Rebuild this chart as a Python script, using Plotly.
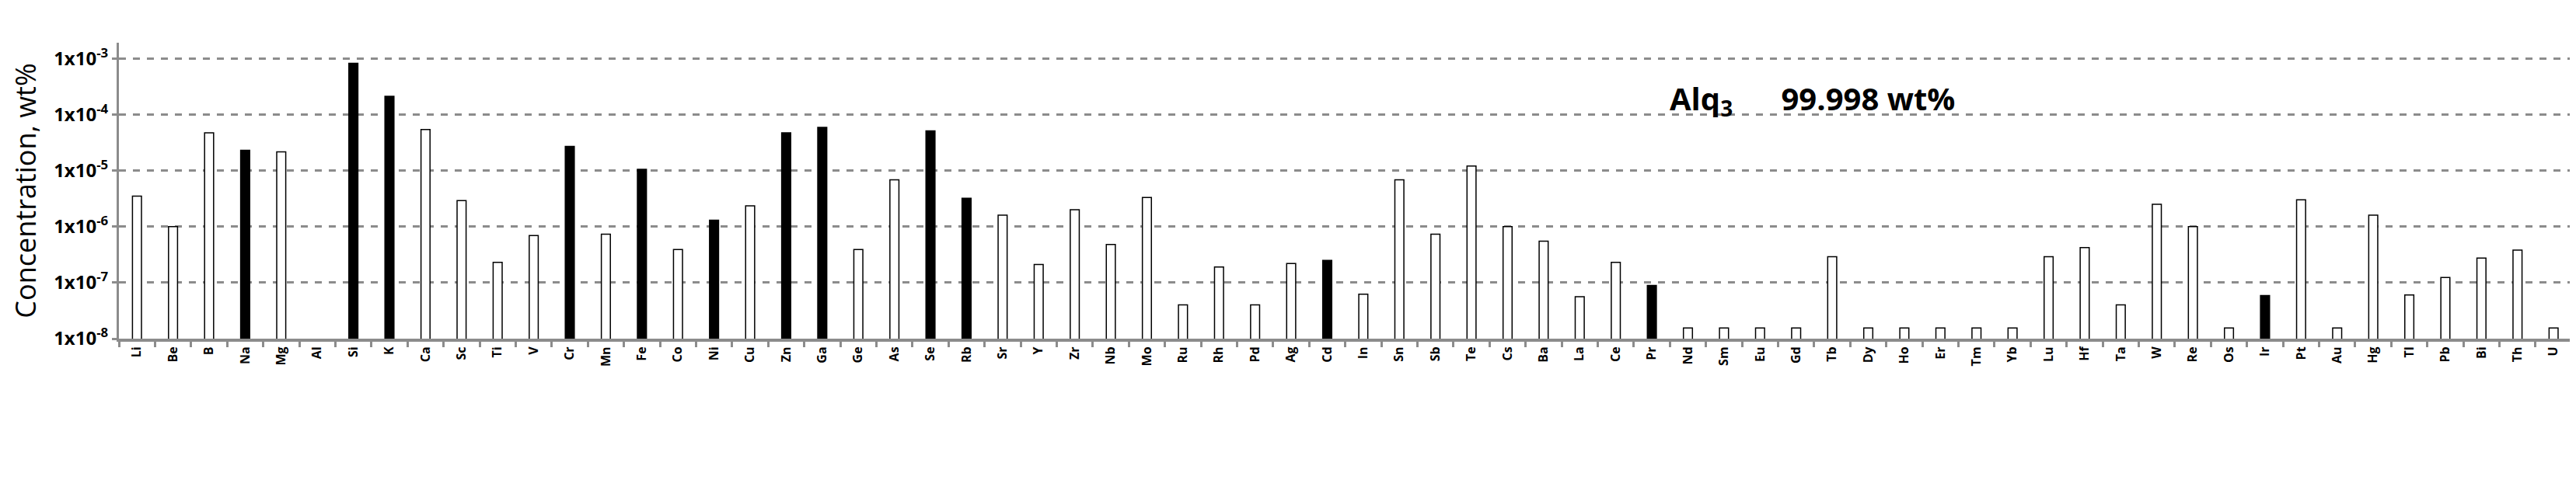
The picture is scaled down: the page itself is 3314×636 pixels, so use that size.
import plotly.graph_objects as go

elements = ["Li", "Be", "B", "Na", "Mg", "Al", "Si", "K", "Ca", "Sc", "Ti", "V", "Cr", "Mn", "Fe",
            "Co", "Ni", "Cu", "Zn", "Ga", "Ge", "As", "Se", "Rb", "Sr", "Y", "Zr", "Nb", "Mo", "Ru",
            "Rh", "Pd", "Ag", "Cd", "In", "Sn", "Sb", "Te", "Cs", "Ba", "La", "Ce", "Pr", "Nd", "Sm",
            "Eu", "Gd", "Tb", "Dy", "Ho", "Er", "Tm", "Yb", "Lu", "Hf", "Ta", "W", "Re", "Os", "Ir",
            "Pt", "Au", "Hg", "Tl", "Pb", "Bi", "Th", "U"]
concentration = [3.5e-6, 1.0e-6, 4.7e-5, 2.3e-5, 2.15e-5, None, 8.2e-4, 2.1e-4, 5.4e-5, 2.9e-6,
                 2.3e-7, 6.9e-7, 2.7e-5, 7.3e-7, 1.05e-5, 3.9e-7, 1.3e-6, 2.35e-6, 4.7e-5, 5.9e-5,
                 3.9e-7, 6.8e-6, 5.1e-5, 3.2e-6, 1.6e-6, 2.1e-7, 2.0e-6, 4.8e-7, 3.3e-6, 4.0e-8,
                 1.9e-7, 4.0e-8, 2.2e-7, 2.5e-7, 6.2e-8, 6.8e-6, 7.3e-7, 1.2e-5, 1.0e-6, 5.5e-7,
                 5.6e-8, 2.3e-7, 8.9e-8, 1.55e-8, 1.55e-8, 1.55e-8, 1.55e-8, 2.9e-7, 1.55e-8, 1.55e-8,
                 1.55e-8, 1.55e-8, 1.55e-8, 2.9e-7, 4.2e-7, 4.0e-8, 2.5e-6, 1.0e-6, 1.55e-8, 5.9e-8,
                 3.0e-6, 1.55e-8, 1.6e-6, 6.0e-8, 1.23e-7, 2.75e-7, 3.8e-7, 1.55e-8]
highlighted = {"Na", "Si", "K", "Cr", "Fe", "Ni", "Zn", "Ga", "Se", "Rb", "Cd", "Pr", "Ir"}
tick_vals = [1e-8, 1e-7, 1e-6, 1e-5, 1e-4, 1e-3]
tick_text = ["1x10<sup>-8</sup>", "1x10<sup>-7</sup>", "1x10<sup>-6</sup>",
             "1x10<sup>-5</sup>", "1x10<sup>-4</sup>", "1x10<sup>-3</sup>"]

colors = ["black" if e in highlighted else "white" for e in elements]

fig = go.Figure(go.Bar(
    x=elements, y=concentration,
    marker=dict(color=colors, line=dict(color="black", width=1.5)),
    width=0.25,
))
fig.update_layout(
    width=3314, height=636, plot_bgcolor="white", paper_bgcolor="white",
    margin=dict(l=145, r=9, t=47, b=208),
    showlegend=False,
    font=dict(family="Open Sans", color="black"),
)
fig.update_yaxes(
    type="log", range=[-8, -2.72], tickvals=tick_vals, ticktext=tick_text,
    tickfont=dict(size=24, family="Open Sans", weight="bold"),
    showgrid=True, gridcolor="#8c8c8c", griddash="dash", gridwidth=3,
    showline=True, linecolor="#8c8c8c", linewidth=3, ticks="outside", ticklen=6,
    tickcolor="#8c8c8c", tickwidth=3,
    title=dict(text="Concentration, wt%", font=dict(size=36, family="Open Sans"), standoff=14),
)
fig.update_xaxes(
    tickangle=-90, tickfont=dict(size=16, family="Open Sans", weight="bold"),
    showline=True, linecolor="#8c8c8c", linewidth=4, ticks="outside", ticklen=7,
    tickcolor="#8c8c8c", tickwidth=3, tickson="boundaries", range=[-0.5, 67.6],
)
fig.add_annotation(
    x=0.748, y=0.89, xref="paper", yref="paper", xanchor="right", showarrow=False,
    text="Alq<sub>3</sub>      99.998 wt%",
    font=dict(size=40, family="Open Sans", weight="bold"),
)
fig.write_html("out.html")
